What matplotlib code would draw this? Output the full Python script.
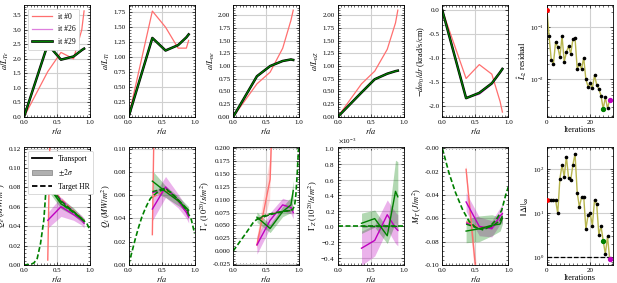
import matplotlib
matplotlib.use('Agg')
import matplotlib.pyplot as plt
import matplotlib.patheffects as pe
from matplotlib.ticker import AutoMinorLocator, MultipleLocator, ScalarFormatter
from matplotlib.lines import Line2D
from matplotlib.patches import Patch

plt.rcParams['font.family'] = ['Liberation Serif', 'DejaVu Serif']
plt.rcParams['mathtext.fontset'] = 'stix'
plt.rcParams['font.size'] = 5.5

# radial grids
r_top = [0.0, 0.36, 0.56, 0.75, 0.875, 0.91]
r_flx = [0.36, 0.56, 0.75, 0.875, 0.91]

# ---- gradients (top row) ----
aLTe_0 = [0, 1.56, 2.22, 2.0, 3.0, 3.65]
aLTe_26 = [0, 2.48, 1.99, 2.08, 2.28, 2.33]
aLTe_29 = [0, 2.5, 1.97, 2.08, 2.3, 2.35]
aLTi_0 = [0, 1.77, 1.5, 1.15, 1.15, 1.28]
aLTi_26 = [0, 1.31, 1.12, 1.2, 1.33, 1.37]
aLTi_29 = [0, 1.32, 1.11, 1.2, 1.33, 1.38]
aLne_0 = [0, 0.65, 0.88, 1.35, 1.9, 2.1]
aLne_26 = [0, 0.79, 1.0, 1.1, 1.13, 1.12]
aLne_29 = [0, 0.8, 1.0, 1.1, 1.13, 1.12]
aLnZ_0 = [0, 0.65, 0.9, 1.33, 1.85, 2.1]
aLnZ_26 = [0, 0.47, 0.74, 0.85, 0.9, 0.91]
aLnZ_29 = [0, 0.48, 0.74, 0.85, 0.9, 0.91]
dw0_0 = [0, -1.42, -1.13, -1.33, -1.9, -2.12]
dw0_26 = [0, -1.82, -1.75, -1.54, -1.31, -1.23]
dw0_29 = [0, -1.83, -1.72, -1.52, -1.29, -1.22]

# ---- fluxes (bottom row) ----
r_hr = [0, 0.1, 0.15, 0.2, 0.25, 0.3, 0.33, 0.36, 0.45, 0.55, 0.65, 0.75, 0.85, 0.95, 1.0]
Qe_hr = [0, 0.0005, 0.002, 0.0066, 0.022, 0.046, 0.075, 0.085, 0.074, 0.066, 0.059, 0.054, 0.049, 0.043, 0.036]
Qi_hr = [0, 0.022, 0.032, 0.041, 0.048, 0.054, 0.057, 0.059, 0.063, 0.065, 0.062, 0.056, 0.050, 0.039, 0.027]
r_hr_ge = [0, 0.1, 0.2, 0.3, 0.36, 0.45, 0.55, 0.65, 0.75, 0.85, 0.9, 0.93, 0.95, 0.97, 0.99]
Ge_hr = [0, 0.018, 0.036, 0.055, 0.062, 0.068, 0.072, 0.075, 0.077, 0.079, 0.081, 0.088, 0.11, 0.15, 0.2]
r_hr_gz = [0, 1.0]
GZ_hr = [0, 0]
r_hr_mt = [0, 0.1, 0.2, 0.31, 0.41, 0.51, 0.62, 0.72, 0.82, 0.9, 0.96, 1.0]
MT_hr = [0, -0.021, -0.038, -0.053, -0.063, -0.068, -0.070, -0.067, -0.061, -0.053, -0.040, -0.033]

Qe_tr0, Qe_sg0, Qe_tg0 = [0.005, 0.78, 1.6, 2.2, 2.4], [0.002, 0.05, 0.1, 0.1, 0.1], [0.085, 0.068, 0.056, 0.048, 0.046]
Qe_tr26, Qe_sg26, Qe_tg26 = [0.046, 0.060, 0.052, 0.046, 0.043], [0.008, 0.01, 0.006, 0.005, 0.005], [0.083, 0.067, 0.055, 0.047, 0.046]
Qe_tr29, Qe_sg29, Qe_tg29 = [0.082, 0.063, 0.055, 0.047, 0.045], [0.005, 0.005, 0.004, 0.003, 0.003], [0.084, 0.066, 0.055, 0.048, 0.046]

Qi_tr0, Qi_sg0, Qi_tg0 = [0.026, 0.77, 1.5, 1.8, 1.9], [0.003, 0.05, 0.1, 0.1, 0.1], [0.058, 0.064, 0.055, 0.046, 0.043]
Qi_tr26, Qi_sg26, Qi_tg26 = [0.048, 0.067, 0.055, 0.045, 0.041], [0.01, 0.009, 0.006, 0.005, 0.005], [0.062, 0.066, 0.056, 0.047, 0.045]
Qi_tr29, Qi_sg29, Qi_tg29 = [0.072, 0.063, 0.055, 0.049, 0.047], [0.009, 0.005, 0.004, 0.003, 0.003], [0.063, 0.066, 0.056, 0.047, 0.046]

Ge_tr0, Ge_sg0, Ge_tg0 = [0.012, 0.14, 0.9, 1.2, 1.3], [0.01, 0.04, 0.1, 0.1, 0.1], [0.062, 0.072, 0.077, 0.079, 0.08]
Ge_tr26, Ge_sg26, Ge_tg26 = [0.012, 0.060, 0.09, 0.085, 0.075], [0.018, 0.015, 0.013, 0.012, 0.012], [0.062, 0.071, 0.077, 0.079, 0.08]
Ge_tr29, Ge_sg29, Ge_tg29 = [0.066, 0.044, 0.077, 0.09, 0.118], [0.01, 0.008, 0.01, 0.015, 0.02], [0.062, 0.071, 0.077, 0.079, 0.08]

GZ_tr26, GZ_sg26, GZ_tg26 = [-0.28e-3, -0.18e-3, 0.15e-3, -0.02e-3, -0.05e-3], [0.22e-3, 0.2e-3, 0.19e-3, 0.2e-3, 0.2e-3], [0, 0, 0, 0, 0]
GZ_tr29, GZ_sg29, GZ_tg29 = [0.04e-3, 0.1e-3, -0.12e-3, 0.45e-3, 0.38e-3], [0.13e-3, 0.11e-3, 0.1e-3, 0.4e-3, 0.45e-3], [0, 0, 0, 0, 0]

MT_tr0, MT_sg0, MT_tg0 = [-0.018, -0.136, -0.25, -0.3, -0.3], [0.004, 0.015, 0.02, 0.02, 0.02], [-0.063, -0.068, -0.067, -0.062, -0.06]
MT_tr26, MT_sg26, MT_tg26 = [-0.046, -0.067, -0.069, -0.058, -0.056], [0.008, 0.008, 0.007, 0.007, 0.008], [-0.064, -0.069, -0.068, -0.062, -0.059]
MT_tr29, MT_sg29, MT_tg29 = [-0.071, -0.069, -0.066, -0.065, -0.060], [0.01, 0.011, 0.009, 0.006, 0.005], [-0.065, -0.069, -0.067, -0.062, -0.058]

# ---- convergence ----
iters = list(range(30))
residual = [0.22, 0.068, 0.024, 0.020, 0.052, 0.042, 0.027, 0.068, 0.022, 0.033,
            0.044, 0.031, 0.059, 0.062, 0.016, 0.020, 0.016, 0.026, 0.010, 0.0073,
            0.0085, 0.0068, 0.012, 0.0079, 0.0065, 0.0049, 0.0027, 0.0045, 0.0028, 0.0040]
delta_inf = [20, 20, 20, 20, 20, 10, 61, 125, 68, 193,
             63, 57, 125, 223, 29.5, 14, 23, 24, 4.4, 9,
             10, 5.3, 20, 16, 3.3, 5.1, 2.4, 1.2, 3.0, 0.92]

C0, C26, C29 = '#ff6f6f', 'm', 'g'
LINE = '#b8b64e'

fig = plt.figure(figsize=(6.17, 2.83), dpi=100)
L, W, G = 0.0389, 0.107, 0.0625
rows = [(0.587, 0.395), (0.064, 0.416)]
axs = [[fig.add_axes([L + i * (W + G), b, W, h]) for i in range(6)] for b, h in rows]


def style(ax, logy=False):
  ax.tick_params(direction='in', top=True, right=True, which='both', labelsize=5, pad=2)
  ax.tick_params(which='major', length=2.5, width=0.5)
  ax.tick_params(which='minor', length=1.3, width=0.4)
  ax.xaxis.set_minor_locator(AutoMinorLocator(10))
  if not logy:
    ax.yaxis.set_minor_locator(AutoMinorLocator(5))
  ax.grid(True, which='major', color='#d0d0d0', lw=0.8)
  ax.set_axisbelow(True)
  for s in ax.spines.values():
    s.set_linewidth(0.6)


top = [
  ('$a/L_{Te}$', aLTe_0, aLTe_26, aLTe_29, (0, 3.85), 0.5, '%.1f'),
  ('$a/L_{Ti}$', aLTi_0, aLTi_26, aLTi_29, (0, 1.87), 0.25, '%.2f'),
  ('$a/L_{ne}$', aLne_0, aLne_26, aLne_29, (0, 2.2), 0.25, '%.2f'),
  ('$a/L_{nZ}$', aLnZ_0, aLnZ_26, aLnZ_29, (0, 2.2), 0.25, '%.2f'),
  ('$-d\\omega_0/dr$ (krad/s/cm)', dw0_0, dw0_26, dw0_29, (-2.22, 0.11), 0.5, '%.1f'),
]
for ax, (lab, v0, v26, v29, yl, step, fmt) in zip(axs[0], top):
  style(ax)
  ax.plot(r_top, v0, color=C0, lw=0.9)
  ax.plot(r_top, v26, color=C26, lw=0.9, alpha=0.5)
  ax.plot(r_top, v29, color='k', lw=1.8)
  ax.plot(r_top, v29, color=C29, lw=0.9)
  ax.set_xlim(0, 1)
  ax.set_ylim(*yl)
  ax.xaxis.set_major_locator(MultipleLocator(0.5))
  ax.yaxis.set_major_locator(MultipleLocator(step))
  ax.yaxis.set_major_formatter(plt.FormatStrFormatter(fmt))
  ax.set_xlabel('$r/a$', fontsize=6, labelpad=1)
  ax.set_ylabel(lab, fontsize=6, labelpad=1)

h29 = Line2D([], [], color=C29, lw=1.0,
             path_effects=[pe.Stroke(linewidth=1.9, foreground='k'), pe.Normal()])
leg = axs[0][0].legend(handles=[Line2D([], [], color=C0, lw=0.9), Line2D([], [], color=C26, lw=0.9, alpha=0.5), h29],
                       labels=['it #0', 'it #26', 'it #29'], loc='upper left', fontsize=5.5,
                       handlelength=2.6, borderpad=0.5, labelspacing=0.6, framealpha=1, edgecolor='#cccccc')
leg.get_frame().set_linewidth(0.5)

bottom = [
  ('$Q_e$ ($MW/m^2$)', r_hr, Qe_hr, (Qe_tr0, Qe_sg0, Qe_tg0), (Qe_tr26, Qe_sg26, Qe_tg26), (Qe_tr29, Qe_sg29, Qe_tg29), (0, 0.1215), 0.02, '%.2f'),
  ('$Q_i$ ($MW/m^2$)', r_hr, Qi_hr, (Qi_tr0, Qi_sg0, Qi_tg0), (Qi_tr26, Qi_sg26, Qi_tg26), (Qi_tr29, Qi_sg29, Qi_tg29), (0, 0.1012), 0.02, '%.2f'),
  ('$\\Gamma_e$ ($10^{20}/s/m^2$)', r_hr_ge, Ge_hr, (Ge_tr0, Ge_sg0, Ge_tg0), (Ge_tr26, Ge_sg26, Ge_tg26), (Ge_tr29, Ge_sg29, Ge_tg29), (-0.027, 0.2026), 0.025, '%.3f'),
  ('$\\Gamma_Z$ ($10^{20}/s/m^2$)', r_hr_gz, GZ_hr, None, (GZ_tr26, GZ_sg26, GZ_tg26), (GZ_tr29, GZ_sg29, GZ_tg29), (-0.494e-3, 1.017e-3), 0.2e-3, None),
  ('$M_T$ ($J/m^2$)', r_hr_mt, MT_hr, (MT_tr0, MT_sg0, MT_tg0), (MT_tr26, MT_sg26, MT_tg26), (MT_tr29, MT_sg29, MT_tg29), (-0.1, 0.001), 0.02, '%.2f'),
]
for ax, (lab, rh, vh, d0, d26, d29, yl, step, fmt) in zip(axs[1], bottom):
  style(ax)
  for d, c, a in [(d0, C0, 0.25), (d26, C26, 0.3), (d29, C29, 0.3)]:
    if d is None:
      continue
    tr, sg, tg = d
    lo = [t - s for t, s in zip(tr, sg)]
    hi = [t + s for t, s in zip(tr, sg)]
    ax.fill_between(r_flx, lo, hi, color=c, alpha=a, lw=0)
    ax.plot(r_flx, tr, color=c, lw=1.0)
    ax.plot(r_flx, tg, color=c, lw=1.0, ls='--')
  ax.plot(rh, vh, color=C29, lw=1.2, ls=(0, (3, 1.5)))
  ax.set_xlim(0, 1)
  ax.set_ylim(*yl)
  ax.xaxis.set_major_locator(MultipleLocator(0.5))
  ax.yaxis.set_major_locator(MultipleLocator(step))
  if fmt:
    ax.yaxis.set_major_formatter(plt.FormatStrFormatter(fmt))
  else:
    sf = ScalarFormatter(useMathText=True)
    sf.set_powerlimits((-2, 2))
    ax.yaxis.set_major_formatter(sf)
    ax.yaxis.get_offset_text().set_fontsize(5)
  ax.set_xlabel('$r/a$', fontsize=6, labelpad=1)
  ax.set_ylabel(lab, fontsize=6, labelpad=0.5)

leg = axs[1][0].legend(handles=[Line2D([], [], color='k', lw=1.3), Patch(facecolor='#b0b0b0', edgecolor='#808080', lw=0.5),
                                Line2D([], [], color='k', lw=1.3, ls=(0, (3, 1.5)))],
                       labels=['Transport', '$\\pm2\\sigma$', 'Target HR'], loc='upper left', fontsize=5.5,
                       handlelength=2.6, borderpad=0.5, labelspacing=0.6, framealpha=1, edgecolor='#cccccc')
leg.get_frame().set_linewidth(0.5)

# convergence panels
for ax, vals, lab, yl in [(axs[0][5], residual, '$\\hat{L}_2$ residual', (0.0019, 0.27)),
                          (axs[1][5], delta_inf, '$||\\Delta||_\\infty$', (0.68, 316))]:
  ax.set_yscale('log')
  style(ax, logy=True)
  ax.plot(iters, vals, color=LINE, lw=1.0, marker='o', ms=1.6, mfc='k', mec='k', zorder=2)
  ax.plot(iters[0], vals[0], 'o', color='r', ms=2.5, zorder=3)
  ax.plot(iters[26], vals[26], 'o', color=C29, ms=2.8, zorder=3)
  ax.plot(iters[29], vals[29], 'o', color=C26, ms=2.8, zorder=3)
  ax.set_xlim(0, 30.5)
  ax.set_ylim(*yl)
  ax.xaxis.set_major_locator(MultipleLocator(20))
  ax.set_xlabel('Iterations', fontsize=6, labelpad=1)
  ax.set_ylabel(lab, fontsize=6, labelpad=1)
axs[1][5].axhline(1.0, color='k', lw=0.9, ls='--', zorder=1)

fig.savefig('out.png', dpi=100)
